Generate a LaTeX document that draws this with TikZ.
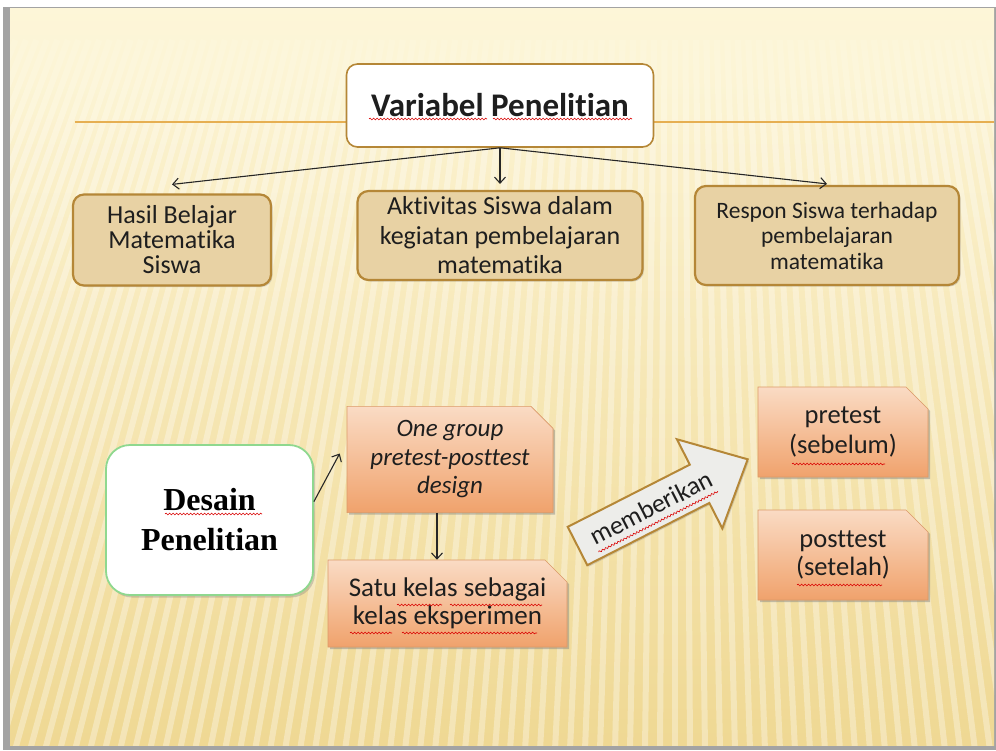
\documentclass[tikz,border=0pt]{standalone}
\usepackage{fontspec}
\setmainfont{Carlito}[Ligatures={NoCommon}]
\newfontfamily\serifbold{Liberation Serif}
\usetikzlibrary{arrows,arrows.meta}
\usetikzlibrary{shapes.misc,shadows,fadings,decorations.pathmorphing}

\definecolor{slidetop}{HTML}{FDF6D8}
\definecolor{slidebot}{HTML}{EFD893}
\definecolor{framegray}{HTML}{A3A3A3}
\definecolor{boxbrown}{HTML}{B58737}
\definecolor{boxtan}{HTML}{E8D2A4}
\definecolor{linegold}{HTML}{E6AF52}
\definecolor{peachtop}{HTML}{FADBC4}
\definecolor{peachbot}{HTML}{F0A26C}
\definecolor{peachline}{HTML}{DC9A68}
\definecolor{desaingreen}{HTML}{8FD88F}
\definecolor{arrowgray}{HTML}{EDEDEA}
\definecolor{textdark}{HTML}{1E1E1E}

\tikzfading[name=topfade, top color=transparent!0, bottom color=transparent!100]

\tikzset{
	titlebox/.style={rectangle, rounded corners=11pt, draw=boxbrown, line width=1.6pt, fill=white, text=textdark},
	varbox/.style={rectangle, rounded corners=11pt, draw=boxbrown, line width=2.2pt, fill=boxtan, align=center, text=textdark, drop shadow={shadow xshift=1.5pt, shadow yshift=-1.5pt, opacity=0.3}},
	peachbox/.style={chamfered rectangle, chamfered rectangle corners=north east, chamfered rectangle sep=11pt, top color=peachtop, bottom color=peachbot, draw=peachline, line width=0.6pt, align=center, text=textdark, drop shadow={shadow xshift=2pt, shadow yshift=-2pt, opacity=0.45}},
	desainbox/.style={rectangle, rounded corners=24pt, draw=desaingreen, line width=1.8pt, fill=white, align=center, drop shadow={shadow xshift=2pt, shadow yshift=-2.5pt, opacity=0.35}},
	bigarrow/.style={draw=boxbrown, line width=2pt, fill=arrowgray, drop shadow={shadow xshift=1.5pt, shadow yshift=-1.5pt, opacity=0.3}},
	conn/.style={->, black!85, line width=1.1pt},
	spell/.style={red!85!black, line width=0.6pt, decorate, decoration={snake, amplitude=0.9pt, segment length=3.5pt}}
}

\begin{document}
\begin{tikzpicture}[x=1pt, y=-1pt, >={Straight Barb[length=6pt, width=11pt]}]
	\useasboundingbox (0,0) rectangle (996,750);
	% slide background
	\fill[white] (0,0) rectangle (996,750);
	\fill[framegray] (3,7) rectangle (996,750);
	\shade[top color=slidetop, bottom color=slidebot] (10,8) rectangle (994,745);
	\begin{scope}
		\clip (10,8) rectangle (994,745);
		\foreach \i in {-20,...,76} {
			\pgfmathsetmacro{\xb}{\i*15}
			\pgfmathsetmacro{\xt}{675+(\xb-675)*0.6979}
			\draw[white, opacity=0.33, line width=6pt] (\xt,40) -- (\xb,750);
		}
		\fill[slidetop, path fading=topfade] (10,8) rectangle (994,150);
	\end{scope}
	\draw[linegold, line width=2.5pt] (75,122) -- (994,122);
	
	% variabel
	\node[titlebox, minimum width=307pt, minimum height=83pt, font=\bfseries\fontsize{33}{36}\selectfont] (judul) at (500,105.5) {Variabel Penelitian};
	\node[varbox, minimum width=198pt, minimum height=91pt, font=\fontsize{26}{25}\selectfont] (hasil) at (172,240) {Hasil Belajar\\Matematika\\Siswa};
	\node[varbox, minimum width=285pt, minimum height=89pt, font=\fontsize{26}{29.5}\selectfont] (aktivitas) at (500,235.5) {Aktivitas Siswa dalam\\kegiatan pembelajaran\\matematika};
	\node[varbox, minimum width=264pt, minimum height=99pt, font=\fontsize{23.5}{25.5}\selectfont] (respon) at (827,235.5) {Respon Siswa terhadap\\pembelajaran\\matematika};
	
	\draw[conn] (judul.south) -- ([yshift=9pt]hasil.north);
	\draw[conn] (judul.south) -- ([yshift=6pt]aktivitas.north);
	\draw[conn] (judul.south) -- ([yshift=1pt]respon.north);
	
	% desain
	\node[desainbox, minimum width=207pt, minimum height=150pt, font=\serifbold\bfseries\fontsize{32}{40}\selectfont] (desain) at (209.5,520) {Desain\\Penelitian};
	\node[peachbox, minimum width=206pt, minimum height=97pt, font=\itshape\fontsize{25}{28.5}\selectfont] (onegroup) at (450,459.5) {One group\\pretest-posttest\\design};
	\node[peachbox, minimum width=239pt, minimum height=87pt, font=\fontsize{27}{28}\selectfont] (satu) at (447.5,603.5) {Satu kelas sebagai\\kelas eksperimen};
	\node[peachbox, minimum width=170pt, minimum height=90pt, font=\fontsize{26.5}{30}\selectfont] (pretest) at (843,432) {pretest\\(sebelum)};
	\node[peachbox, minimum width=170pt, minimum height=90pt, font=\fontsize{26.5}{28}\selectfont] (posttest) at (843,555) {posttest\\(setelah)};
	
	\draw[conn] (desain.10) -- ([xshift=-7pt,yshift=6pt]onegroup.west);
	\draw[conn] ([xshift=-13pt]onegroup.south) -- ([xshift=-10.5pt]satu.north);
	
	% memberikan
	\begin{scope}[shift={(577.5,546)}, rotate=27]
		\draw[bigarrow] (0,-21.5) -- (137,-21.5) -- (137,-50) -- (191,0) -- (137,50) -- (137,21.5) -- (0,21.5) -- cycle;
		\node[transform shape, text=textdark, font=\fontsize{26}{28}\selectfont] (memberikan) at (83,-1) {memberikan};
		\draw[spell] (16,15) -- (150,15);
	\end{scope}
	
	% spelling marks
	\draw[spell] (369,119) -- (487,119);
	\draw[spell] (493,119) -- (632,119);
	\draw[spell] (165,514) -- (262,514);
	\draw[spell] (397,605) -- (442,605);
	\draw[spell] (450,605) -- (542,605);
	\draw[spell] (350,633) -- (392,633);
	\draw[spell] (402,633) -- (537,633);
	\draw[spell] (792,464) -- (885,464);
	\draw[spell] (797,585) -- (882,585);
\end{tikzpicture}
\end{document}
